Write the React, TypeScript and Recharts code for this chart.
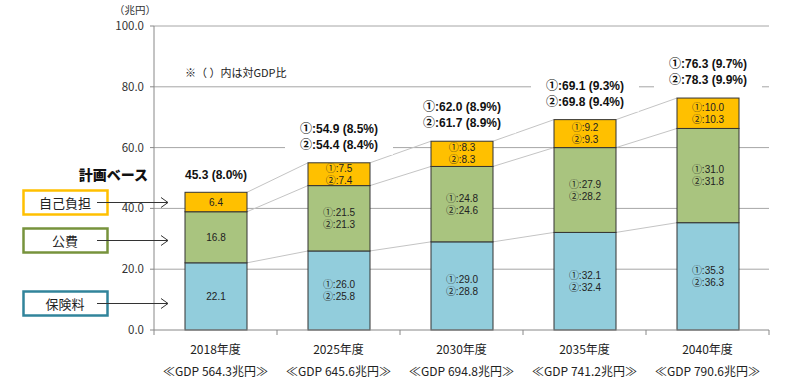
import React from 'react';
import { BarChart, Bar, XAxis, YAxis, CartesianGrid, LabelList } from 'recharts';

// ---- data ----
const years = ['2018年度', '2025年度', '2030年度', '2035年度', '2040年度'];
const gdp = ['564.3', '645.6', '694.8', '741.2', '790.6'];
const insurance1 = [22.1, 26.0, 29.0, 32.1, 35.3];
const insurance2: (number | null)[] = [null, 25.8, 28.8, 32.4, 36.3];
const publicFund1 = [16.8, 21.5, 24.8, 27.9, 31.0];
const publicFund2: (number | null)[] = [null, 21.3, 24.6, 28.2, 31.8];
const selfPay1 = [6.4, 7.5, 8.3, 9.2, 10.0];
const selfPay2: (number | null)[] = [null, 7.4, 8.3, 9.3, 10.3];
const total1 = ['45.3', '54.9', '62.0', '69.1', '76.3'];
const ratio1 = ['8.0', '8.5', '8.9', '9.3', '9.7'];
const total2: (string | null)[] = [null, '54.4', '61.7', '69.8', '78.3'];
const ratio2: (string | null)[] = [null, '8.4', '8.9', '9.4', '9.9'];
const yTicks = [0, 20, 40, 60, 80, 100];
const gridValues = [20, 40, 60, 80, 100];

const rows = years.map((year, i) => ({
  year,
  ins: insurance1[i],
  pub: publicFund1[i],
  self: selfPay1[i],
}));

// ---- layout ----
const W = 812;
const H = 383;
const PLOT_LEFT = 154;
const PLOT_RIGHT = 769;
const PLOT_TOP = 26;
const PLOT_BOTTOM = 330;
const BAND = (PLOT_RIGHT - PLOT_LEFT) / years.length;
const FONT = "'Noto Sans CJK JP', 'Noto Sans', sans-serif";
const NUM_FONT = "'Liberation Sans', 'Noto Sans CJK JP', sans-serif";

const C_BLUE = '#92CDDC';
const C_GREEN = '#A9C47F';
const C_ORANGE = '#FFC000';

const segVals: Record<string, number[]> = { ins: insurance1, pub: publicFund1, self: selfPay1 };
const cumTop = (key: string, i: number) => {
  if (key === 'ins') return insurance1[i];
  if (key === 'pub') return insurance1[i] + publicFund1[i];
  return insurance1[i] + publicFund1[i] + selfPay1[i];
};

const makeShape = (key: string) => (props: any) => {
  const { x, y, width, height, fill, index } = props;
  const seg = segVals[key][index];
  const ppu = height / seg;
  const y0 = y + cumTop(key, index) * ppu;
  let connector = null;
  if (index < years.length - 1) {
    const ny = y0 - cumTop(key, index + 1) * ppu;
    connector = (
      <line x1={x + width} y1={y} x2={x + BAND} y2={ny} stroke="#C4C4C4" strokeWidth={1} />
    );
  }
  return (
    <g>
      {connector}
      <rect x={x} y={y} width={width} height={height} fill={fill} stroke="#333" strokeWidth={1} />
    </g>
  );
};

const makeSegLabel = (v1: number[], v2: (number | null)[]) => (props: any) => {
  const { x, y, width, height, index } = props;
  const cx = x + width / 2;
  const cy = y + height / 2;
  const common = {
    x: cx,
    textAnchor: 'middle' as const,
    dominantBaseline: 'central' as const,
    fontSize: 10,
    fill: '#222',
    fontFamily: NUM_FONT,
  };
  if (v2[index] == null) {
    return <text {...common} y={cy}>{v1[index].toFixed(1)}</text>;
  }
  return (
    <g>
      <text {...common} y={cy - 6}>{'①:' + v1[index].toFixed(1)}</text>
      <text {...common} y={cy + 6}>{'②:' + (v2[index] as number).toFixed(1)}</text>
    </g>
  );
};

const TopLabel = (props: any) => {
  const { x, y, width, index } = props;
  const cx = x + width / 2;
  const common = {
    x: cx,
    textAnchor: 'middle' as const,
    dominantBaseline: 'central' as const,
    fontSize: 12,
    fontWeight: 700,
    fill: '#111',
    fontFamily: NUM_FONT,
  };
  if (total2[index] == null) {
    return (
      <g>
        <rect x={cx - 40} y={y - 27} width={80} height={20} fill="#fff" />
        <text {...common} y={y - 17}>{`${total1[index]} (${ratio1[index]}%)`}</text>
      </g>
    );
  }
  return (
    <g>
      <rect x={cx - 54} y={y - 44} width={108} height={36} fill="#fff" />
      <text {...common} y={y - 34}>{`①:${total1[index]} (${ratio1[index]}%)`}</text>
      <text {...common} y={y - 18}>{`②:${total2[index]} (${ratio2[index]}%)`}</text>
    </g>
  );
};

const XTick = (props: any) => {
  const { x, y, payload } = props;
  const i = payload.index;
  return (
    <g>
      <line x1={x - BAND / 2} x2={x - BAND / 2} y1={y} y2={y + 5} stroke="#888" />
      {i === years.length - 1 && (
        <line x1={x + BAND / 2} x2={x + BAND / 2} y1={y} y2={y + 5} stroke="#888" />
      )}
      <text x={x} y={y + 18} textAnchor="middle" dominantBaseline="central" fontSize={12} fill="#222" fontFamily={FONT}>
        {years[i]}
      </text>
      <text x={x} y={y + 40} textAnchor="middle" dominantBaseline="central" fontSize={12} fill="#222" fontFamily={FONT}>
        {`≪GDP ${gdp[i]}兆円≫`}
      </text>
    </g>
  );
};

const legendItems = [
  { label: '自己負担', color: '#FFC000', y: 190 },
  { label: '公費', color: '#77933C', y: 228 },
  { label: '保険料', color: '#31849B', y: 291 },
];

export default function App() {
  return (
    <div style={{ position: 'absolute', left: 0, top: 0, width: W, height: H, background: '#fff' }}>
      <BarChart
        width={W}
        height={H}
        data={rows}
        margin={{ top: PLOT_TOP, right: W - PLOT_RIGHT, bottom: 0, left: 0 }}
        barSize={62}
      >
        <CartesianGrid vertical={false} horizontalValues={gridValues} stroke="#A6A6A6" />
        <XAxis
          dataKey="year"
          height={H - PLOT_BOTTOM}
          interval={0}
          tickLine={false}
          tickSize={0}
          tickMargin={0}
          axisLine={{ stroke: '#888' }}
          tick={<XTick />}
        />
        <YAxis
          width={PLOT_LEFT}
          domain={[0, 100]}
          ticks={yTicks}
          interval={0}
          tickFormatter={(v: number) => v.toFixed(1)}
          axisLine={{ stroke: '#888' }}
          tickLine={{ stroke: '#888' }}
          tickSize={4}
          tickMargin={6}
          tick={{ fontSize: 11.5, fill: '#333', fontFamily: FONT }}
        />
        <Bar dataKey="ins" stackId="a" fill={C_BLUE} isAnimationActive={false} shape={makeShape('ins')}>
          <LabelList dataKey="ins" content={makeSegLabel(insurance1, insurance2)} />
        </Bar>
        <Bar dataKey="pub" stackId="a" fill={C_GREEN} isAnimationActive={false} shape={makeShape('pub')}>
          <LabelList dataKey="pub" content={makeSegLabel(publicFund1, publicFund2)} />
        </Bar>
        <Bar dataKey="self" stackId="a" fill={C_ORANGE} isAnimationActive={false} shape={makeShape('self')}>
          <LabelList dataKey="self" content={makeSegLabel(selfPay1, selfPay2)} />
          <LabelList dataKey="self" content={TopLabel} />
        </Bar>
      </BarChart>
      <svg
        width={W}
        height={H}
        style={{ position: 'absolute', left: 0, top: 0, pointerEvents: 'none' }}
      >
        <text x={135} y={9} textAnchor="middle" dominantBaseline="central" fontSize={10.5} fill="#333" fontFamily={FONT}>
          （兆円）
        </text>
        <text x={185} y={72} dominantBaseline="central" fontSize={11} fill="#222" fontFamily={FONT}>
          ※（ ）内は対GDP比
        </text>
        <text x={148} y={174} textAnchor="end" dominantBaseline="central" fontSize={14} fontWeight={900} fill="#111" fontFamily={FONT}>
          計画ベース
        </text>
        {legendItems.map((it) => (
          <g key={it.label}>
            <rect x={23.5} y={it.y + 0.5} width={84} height={24} fill="#fff" stroke={it.color} strokeWidth={2.5} />
            <text x={65} y={it.y + 12.5} textAnchor="middle" dominantBaseline="central" fontSize={13} fill="#222" fontFamily={FONT}>
              {it.label}
            </text>
            <line x1={97} y1={it.y + 12.5} x2={168} y2={it.y + 12.5} stroke="#333" strokeWidth={1} />
            <polyline
              points={`161,${it.y + 7.5} 168,${it.y + 12.5} 161,${it.y + 17.5}`}
              fill="none"
              stroke="#333"
              strokeWidth={1}
            />
          </g>
        ))}
      </svg>
    </div>
  );
}
